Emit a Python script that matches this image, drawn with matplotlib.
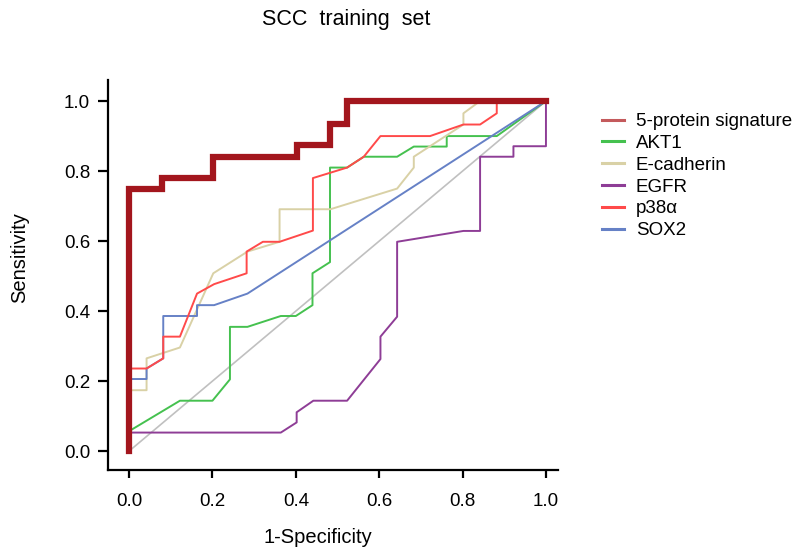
import numpy as np
import matplotlib
matplotlib.use("Agg")
import matplotlib.pyplot as plt
from matplotlib.lines import Line2D

plt.rcParams["font.family"] = ["Liberation Sans", "DejaVu Sans"]

# ROC curves (1-specificity, sensitivity)
five_x = [0, 0, 0.079, 0.079, 0.201, 0.201, 0.403, 0.403, 0.482, 0.482, 0.522, 0.522, 1.0]
five_y = [0, 0.75, 0.75, 0.78, 0.78, 0.84, 0.84, 0.875, 0.875, 0.935, 0.935, 1.0, 1.0]

akt1_x = [0, 0.122, 0.20, 0.242, 0.242, 0.284, 0.364, 0.40, 0.44, 0.44, 0.482, 0.482,
          0.523, 0.563, 0.643, 0.683, 0.762, 0.762, 0.882, 1.0]
akt1_y = [0.057, 0.144, 0.144, 0.205, 0.355, 0.355, 0.386, 0.386, 0.417, 0.508, 0.54, 0.81,
          0.81, 0.841, 0.841, 0.87, 0.87, 0.90, 0.90, 1.0]

ecad_x = [0, 0.042, 0.042, 0.122, 0.202, 0.284, 0.361, 0.361, 0.483, 0.643, 0.683, 0.683,
          0.802, 0.802, 0.842, 1.0]
ecad_y = [0.174, 0.174, 0.265, 0.296, 0.508, 0.57, 0.598, 0.691, 0.691, 0.75, 0.81, 0.841,
          0.933, 0.965, 1.0, 1.0]

egfr_x = [0, 0.364, 0.402, 0.402, 0.442, 0.523, 0.603, 0.603, 0.643, 0.643, 0.802, 0.842,
          0.842, 0.922, 0.922, 1.0, 1.0]
egfr_y = [0.053, 0.053, 0.082, 0.111, 0.144, 0.144, 0.263, 0.327, 0.384, 0.598, 0.629, 0.629,
          0.841, 0.841, 0.871, 0.871, 1.0]

p38_x = [0, 0.042, 0.082, 0.082, 0.122, 0.163, 0.204, 0.282, 0.282, 0.321, 0.361, 0.441,
         0.441, 0.523, 0.563, 0.603, 0.722, 0.802, 0.842, 0.882, 0.882, 1.0]
p38_y = [0.236, 0.236, 0.265, 0.327, 0.327, 0.45, 0.477, 0.508, 0.57, 0.598, 0.598, 0.63,
         0.78, 0.81, 0.841, 0.90, 0.90, 0.933, 0.933, 0.965, 1.0, 1.0]

sox2_x = [0, 0.042, 0.042, 0.082, 0.082, 0.163, 0.163, 0.204, 0.284, 1.0]
sox2_y = [0.206, 0.206, 0.236, 0.265, 0.386, 0.386, 0.417, 0.417, 0.45, 1.0]

ticks = [0.0, 0.2, 0.4, 0.6, 0.8, 1.0]
tick_labels = ["0.0", "0.2", "0.4", "0.6", "0.8", "1.0"]
names = ["5-protein signature", "AKT1", "E-cadherin", "EGFR", "p38\u03b1", "SOX2"]

c_five = "#a3161d"
c_akt1 = "#45c14f"
c_ecad = "#d9d1a6"
c_egfr = "#8e3d96"
c_p38 = "#ff4a4a"
c_sox2 = "#6681c6"

fig = plt.figure(figsize=(8.04, 5.56), dpi=100)
ax = fig.add_axes([0.1346, 0.154, 0.560, 0.702])

ax.plot([0, 1], [0, 1], color="#c0c0c0", lw=1.2, zorder=1)
ax.plot(egfr_x, egfr_y, color=c_egfr, lw=1.4, zorder=2)
ax.plot(akt1_x, akt1_y, color=c_akt1, lw=1.4, zorder=2)
ax.plot(ecad_x, ecad_y, color=c_ecad, lw=1.4, zorder=2)
ax.plot(sox2_x, sox2_y, color=c_sox2, lw=1.4, zorder=3)
ax.plot(p38_x, p38_y, color=c_p38, lw=1.4, zorder=3)
ax.plot(five_x, five_y, color=c_five, lw=4.5, zorder=4, solid_joinstyle="miter")

ax.set_xlim(-0.05, 1.03)
ax.set_ylim(-0.055, 1.06)
ax.set_xticks(ticks)
ax.set_xticklabels(tick_labels)
ax.set_yticks(ticks)
ax.set_yticklabels(tick_labels)

for s in ["top", "right"]:
    ax.spines[s].set_visible(False)
for s in ["left", "bottom"]:
    ax.spines[s].set_linewidth(1.6)
ax.tick_params(axis="both", width=1.6, labelsize=13.5)
ax.tick_params(axis="x", length=6, pad=10)
ax.tick_params(axis="y", length=7, pad=6)

ax.set_xlabel("1-Specificity", fontsize=14.5, va="center")
ax.xaxis.set_label_coords(0.466, -0.171)
ax.set_ylabel("Sensitivity", fontsize=14.5, va="center")
ax.yaxis.set_label_coords(-0.196, 0.546)

fig.text(346 / 804, 1 - 20 / 556, "SCC  training  set", fontsize=15.5, ha="center", va="center")

handle_colors = ["#c45a5c", c_akt1, c_ecad, c_egfr, c_p38, c_sox2]
handles = [Line2D([], [], color=c, lw=2.2) for c in handle_colors]
fig.legend(handles, names, loc="upper left", bbox_to_anchor=(602 / 804, 1 - 113 / 556),
           frameon=False, fontsize=13.5, handlelength=1.2, handletextpad=0.6,
           labelspacing=0.25, borderpad=0, borderaxespad=0)

fig.savefig("out.png", dpi=100)
